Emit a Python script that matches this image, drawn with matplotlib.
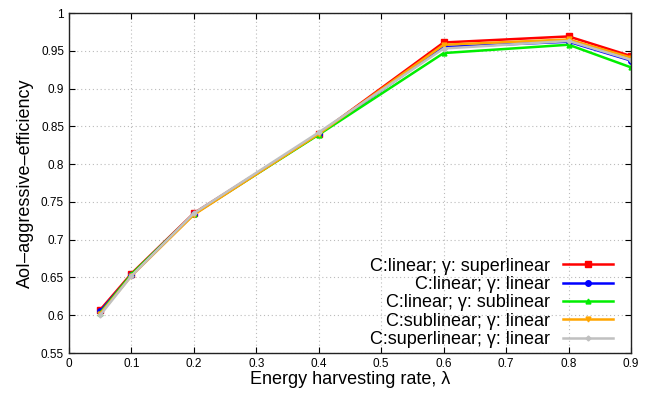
import matplotlib
matplotlib.use("Agg")
import matplotlib.pyplot as plt
from matplotlib.ticker import FuncFormatter

plt.rcParams['font.family'] = ['Liberation Sans', 'DejaVu Sans']

x = [0.05, 0.1, 0.2, 0.4, 0.6, 0.8, 0.9]
lin_superlin = [0.607, 0.655, 0.735, 0.840, 0.961, 0.969, 0.943]
lin_lin = [0.605, 0.653, 0.734, 0.840, 0.955, 0.962, 0.937]
lin_sublin = [0.603, 0.654, 0.734, 0.839, 0.947, 0.958, 0.928]
sublin_lin = [0.602, 0.652, 0.733, 0.840, 0.958, 0.965, 0.941]
superlin_lin = [0.600, 0.652, 0.735, 0.842, 0.953, 0.963, 0.938]

labels = ["C:linear; γ: superlinear", "C:linear; γ: linear", "C:linear; γ: sublinear",
          "C:sublinear; γ: linear", "C:superlinear; γ: linear"]
series = [lin_superlin, lin_lin, lin_sublin, sublin_lin, superlin_lin]
colors = ["#ff0000", "#0000ff", "#00ee00", "#ffa500", "#c0c0c0"]
markers = ["s", "o", "^", "v", "D"]
msizes = [4.5, 4, 3.5, 3.5, 2.5]

fig = plt.figure(figsize=(6.56, 3.94), dpi=100)
ax = fig.add_axes([0.105, 0.104, 0.857, 0.863])

for y, lab, c, m, ms in zip(series, labels, colors, markers, msizes):
    ax.plot(x, y, color=c, lw=1.8, marker=m, ms=ms, label=lab)

ax.set_xlim(0, 0.9)
ax.set_ylim(0.55, 1.0)
ax.set_xticks([i / 10 for i in range(10)])
ax.set_yticks([0.55 + 0.05 * i for i in range(10)])
fmt = FuncFormatter(lambda v, p: ('%.2f' % v).rstrip('0').rstrip('.'))
ax.xaxis.set_major_formatter(fmt)
ax.yaxis.set_major_formatter(fmt)
ax.tick_params(direction='in', top=True, right=True, labelsize=8.5, length=4, width=0.8)
ax.grid(True, color='#bbbbbb', linestyle=(0, (1, 2.5)), linewidth=0.8)
for s in ax.spines.values():
    s.set_linewidth(1.0)
    s.set_color('#222222')

ax.set_xlabel("Energy harvesting rate, λ", fontsize=13, labelpad=1)
ax.set_ylabel("AoI–aggressive–efficiency", fontsize=13, labelpad=5)

leg = ax.legend(loc='lower right', bbox_to_anchor=(0.985, -0.014), frameon=False,
                markerfirst=False, fontsize=13, handlelength=2.75,
                labelspacing=0.07, handletextpad=0.7, borderpad=0.05)

fig.savefig("out.png", dpi=100)
